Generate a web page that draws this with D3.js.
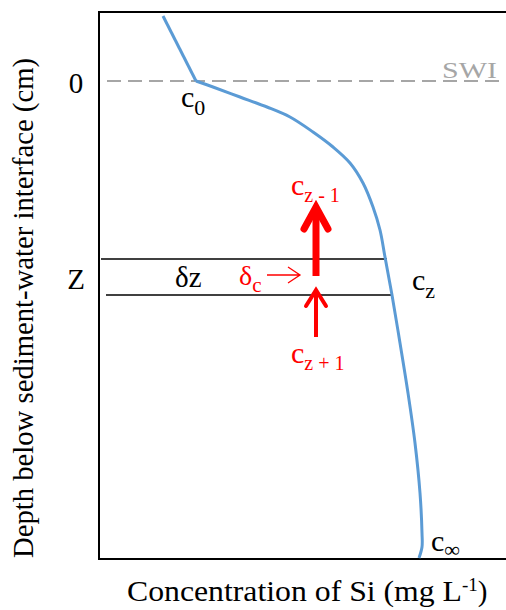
<!DOCTYPE html>
<html><head><meta charset="utf-8">
<script src="https://cdn.jsdelivr.net/npm/d3@7"></script>
</head><body style="margin:0">
<script>
// Profile: concentration (x) vs depth (y), arbitrary units
const waterConc = [6.4, 9.7];
const waterDepth = [-6.5, 0];
const poreConc = [9.7, 11.4, 14.1, 16.8, 19.1, 21.4, 23.4, 25.1, 26.4, 27.4, 28.1, 28.6, 29.3, 30.1, 30.9, 31.6, 32.1, 32.3, 32.3, 32.0];
const poreDepth = [0, 0.6, 1.6, 2.6, 3.6, 5.1, 6.6, 8.2, 10.2, 12.6, 14.9, 17.6, 21.4, 26.2, 31.2, 36.2, 41.2, 45.2, 46.6, 47.7];
const yTickValues = [0, 19.6];
const yTickLabels = ["0", "Z"];
const layerDepths = [17.8, 21.4];
const layerStarts = [0.2, 0.7];
const layerEnds = [28.8, 29.4];

const FONT = "Tinos, 'Liberation Serif', 'Times New Roman', 'Noto Serif CJK SC', serif";
const W = 506, H = 610;
const svg = d3.select("body").append("svg").attr("width", W).attr("height", H);
const x = d3.scaleLinear().domain([0, 40.7]).range([99, 506]);
const y = d3.scaleLinear().domain([-6.9, 47.8]).range([12, 559]);

function txt(xp, yp) {
  return svg.append("text").attr("x", xp).attr("y", yp).attr("font-family", FONT);
}

// frame
svg.append("line").attr("x1", 99).attr("x2", 506).attr("y1", 12).attr("y2", 12).attr("stroke", "#000").attr("stroke-width", 2);
svg.append("line").attr("x1", 99).attr("x2", 506).attr("y1", 559).attr("y2", 559).attr("stroke", "#000").attr("stroke-width", 2);
svg.append("line").attr("x1", 99).attr("x2", 99).attr("y1", 11).attr("y2", 560).attr("stroke", "#000").attr("stroke-width", 2);

// SWI dashed
svg.append("line").attr("x1", x(0.8)).attr("x2", 506).attr("y1", y(0)).attr("y2", y(0))
  .attr("stroke", "#a6a6a6").attr("stroke-width", 2).attr("stroke-dasharray", "14,7");
txt(442, 78).attr("font-size", 23).attr("fill", "#a6a6a6")
  .attr("textLength", 55).attr("lengthAdjust", "spacingAndGlyphs").text("SWI");

// layer lines
layerDepths.forEach((d, i) => {
  svg.append("line").attr("x1", x(layerStarts[i])).attr("x2", x(layerEnds[i]))
    .attr("y1", y(d)).attr("y2", y(d)).attr("stroke", "#000").attr("stroke-width", 1.3);
});

// curve
const blue = "#5b9bd5";
svg.append("path").datum(waterConc.map((c, i) => [c, waterDepth[i]]))
  .attr("d", d3.line().x(d => x(d[0])).y(d => y(d[1])))
  .attr("fill", "none").attr("stroke", blue).attr("stroke-width", 3);
svg.append("path").datum(poreConc.map((c, i) => [c, poreDepth[i]]))
  .attr("d", d3.line().x(d => x(d[0])).y(d => y(d[1])).curve(d3.curveCatmullRom))
  .attr("fill", "none").attr("stroke", blue).attr("stroke-width", 3);

// y tick labels
yTickValues.forEach((v, i) => {
  txt(76, y(v) + 12).attr("text-anchor", "middle").attr("font-size", 29).text(yTickLabels[i]);
});

// axis titles
svg.append("text").attr("font-family", FONT)
  .attr("transform", "translate(33,308) rotate(-90)").attr("text-anchor", "middle")
  .attr("font-size", 29).attr("textLength", 500).attr("lengthAdjust", "spacingAndGlyphs")
  .text("Depth below sediment-water interface (cm)");
const xt = txt(127, 601).attr("font-size", 29);
xt.append("tspan").attr("textLength", 335).attr("lengthAdjust", "spacingAndGlyphs").text("Concentration of Si (mg L");
xt.append("tspan").attr("dy", -10).attr("font-size", 19).text("-1");
xt.append("tspan").attr("dy", 10).text(")");

// labels
function sublabel(xp, yp, main, sub, color, fs, sfs, sdy) {
  const t = txt(xp, yp).attr("font-size", fs).attr("fill", color);
  t.append("tspan").text(main);
  t.append("tspan").attr("dy", sdy).attr("font-size", sfs).text(sub);
}
sublabel(181, 107, "c", "0", "#000", 30, 22, 8);
sublabel(412, 290, "c", "z", "#000", 30, 22, 8);
sublabel(431, 551, "c", "∞", "#000", 30, 22, 6);
txt(175, 287).attr("font-size", 29).text("δz");
sublabel(239, 285, "δ", "c", "red", 28, 21, 7);
sublabel(291, 195, "c", "z - 1", "red", 30, 20, 7);
sublabel(291, 363, "c", "z + 1", "red", 30, 20, 7);

// arrows
const red = "#ff0000";
const ax = x(21.7);
// δc small arrow
svg.append("path").attr("d", `M267,275 L300,275 M288,267 L300,275 L288,283`).attr("fill", "none").attr("stroke", red).attr("stroke-width", 1.3);
// thick arrow
svg.append("line").attr("x1", ax).attr("x2", ax).attr("y1", 276).attr("y2", 208).attr("stroke", red).attr("stroke-width", 7);
svg.append("path").attr("d", `M${ax-12},229 L${ax},207 L${ax+12},229`).attr("fill", "none").attr("stroke", red).attr("stroke-width", 7).attr("stroke-linejoin", "miter").attr("stroke-linecap", "round");
// thin arrow
svg.append("line").attr("x1", ax).attr("x2", ax).attr("y1", 337).attr("y2", 290).attr("stroke", red).attr("stroke-width", 4);
svg.append("path").attr("d", `M${ax-10},306 L${ax},290 L${ax+10},306`).attr("fill", "none").attr("stroke", red).attr("stroke-width", 4).attr("stroke-linejoin", "miter").attr("stroke-linecap", "round");
</script>
</body></html>
